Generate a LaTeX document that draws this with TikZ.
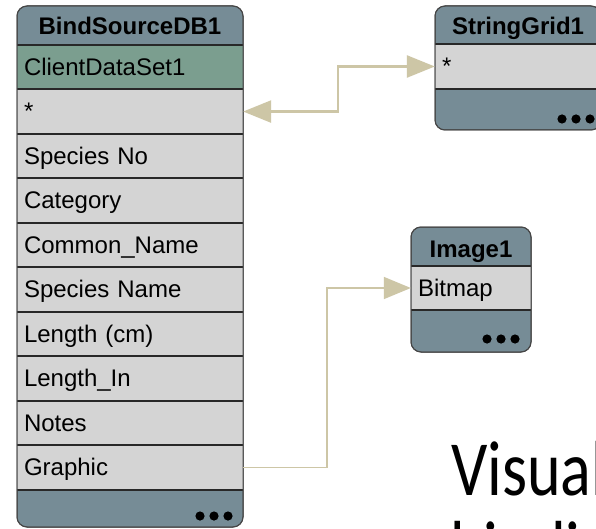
\documentclass[tikz,border=0pt]{standalone}
\usepackage{fontspec}
\setmainfont{Liberation Sans}
\newfontfamily\slidefont{Carlito}
\usetikzlibrary{arrows.meta}
\definecolor{hdr}{RGB}{118,140,150}
\definecolor{grn}{RGB}{123,158,143}
\definecolor{rowc}{RGB}{212,212,212}
\definecolor{connc}{RGB}{205,198,166}
\definecolor{edgec}{RGB}{70,70,70}
\definecolor{sepc}{RGB}{40,40,40}
\begin{document}
\begin{tikzpicture}[x=1pt,y=-1pt,
  compbox/.style={fill=hdr, draw=edgec, line width=1pt, rounded corners=10pt},
  compedge/.style={draw=edgec, line width=1pt, rounded corners=10pt},
  titletext/.style={font=\bfseries\fontsize{24}{24}\selectfont, text height=17pt, text depth=1pt, inner sep=0pt},
  fieldrow/.style={fill=rowc, minimum height=44.1pt, inner xsep=7pt, inner ysep=0pt,
     text height=17pt, text depth=1pt, align=left, text width=#1,
     font=\fontsize{24}{24}\selectfont},
  greenrow/.style={fieldrow=#1, fill=grn},
  sepline/.style={draw=sepc, line width=1.8pt},
  dot/.style={fill=black},
  connector/.style={draw=connc, line width=#1},
  slide/.style={font=\slidefont\fontsize{64}{64}\selectfont, anchor=base west, inner sep=0pt, yscale=1.22}
]
\clip (0,0) rectangle (596,529);
\fill[white] (0,0) rectangle (596,529);

% ---------- BindSourceDB1 ----------
\path[compbox] (17,6) rectangle (243,527);
\node[titletext] (bs) at (130,27) {BindSourceDB1};
\node[greenrow=212pt] (bs-cds) at (130,67.05) {ClientDataSet1};
\node[fieldrow=212pt, anchor=north] (bs-star) at (bs-cds.south) {*};
\node[fieldrow=212pt, anchor=north] (bs-spno) at (bs-star.south) {Species No};
\node[fieldrow=212pt, anchor=north] (bs-cat) at (bs-spno.south) {Category};
\node[fieldrow=212pt, anchor=north] (bs-cn) at (bs-cat.south) {Common\_Name};
\node[fieldrow=212pt, anchor=north] (bs-spn) at (bs-cn.south) {Species Name};
\node[fieldrow=212pt, anchor=north] (bs-len) at (bs-spn.south) {Length (cm)};
\node[fieldrow=212pt, anchor=north] (bs-lin) at (bs-len.south) {Length\_In};
\node[fieldrow=212pt, anchor=north] (bs-notes) at (bs-lin.south) {Notes};
\node[fieldrow=212pt, anchor=north] (bs-graphic) at (bs-notes.south) {Graphic};
\foreach \n in {cds,star,spno,cat,cn,spn,len,lin,notes,graphic}{
  \draw[sepline] (bs-\n.north west) -- (bs-\n.north east);
}
\draw[sepline] (bs-graphic.south west) -- (bs-graphic.south east);
\path[compedge] (17,6) rectangle (243,527);
\fill[dot] (200,516) circle (4.6pt) (214,516) circle (4.6pt) (228,516) circle (4.6pt);

% ---------- StringGrid1 ----------
\path[compbox] (435,6) rectangle (601,130);
\node[titletext] (sg) at (518,27) {StringGrid1};
\node[fieldrow=152pt] (sg-star) at (518,66.5) {*};
\draw[sepline] (sg-star.north west) -- (sg-star.north east);
\draw[sepline] (sg-star.south west) -- (sg-star.south east);
\path[compedge] (435,6) rectangle (601,130);
\fill[dot] (562,119) circle (4.6pt) (576,119) circle (4.6pt) (590,119) circle (4.6pt);

% ---------- Image1 ----------
\path[compbox] (411,227) rectangle (531,352);
\node[titletext] (img) at (471,249) {Image1};
\node[fieldrow=106pt] (img-bitmap) at (471,288) {Bitmap};
\draw[sepline] (img-bitmap.north west) -- (img-bitmap.north east);
\draw[sepline] (img-bitmap.south west) -- (img-bitmap.south east);
\path[compedge] (411,227) rectangle (531,352);
\fill[dot] (487,339) circle (4.6pt) (501,339) circle (4.6pt) (515,339) circle (4.6pt);

% ---------- connectors ----------
\draw[connector=2.5pt, {Triangle[length=28pt, width=22pt]}-{Triangle[length=28pt, width=22pt]}]
  (bs-star.east) -- ++(95,0) |- (sg-star.west);
\draw[connector=1.6pt, -{Triangle[length=27pt, width=22pt]}]
  (bs-graphic.east) -- ++(84,0) |- (img-bitmap.west);

% ---------- slide text ----------
\node[slide] (t1) at (451,495) {Visual};
\node[slide] (t2) at (450,575) {binding};
\end{tikzpicture}
\end{document}
